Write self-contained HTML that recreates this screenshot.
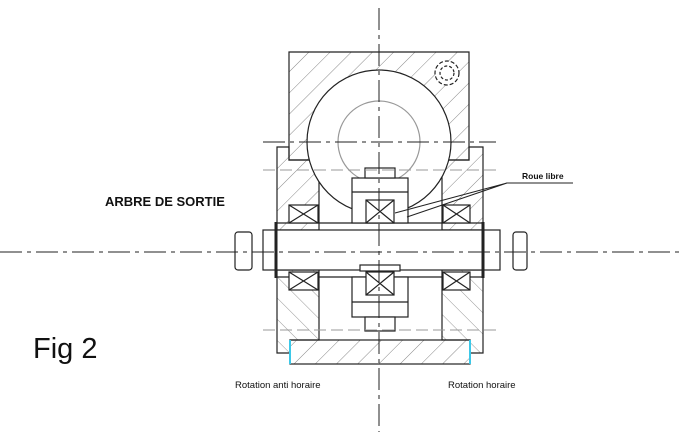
<!DOCTYPE html>
<html><head><meta charset="utf-8"><style>
html,body{margin:0;padding:0;background:#fff;}
svg{display:block;}
text{font-family:"Liberation Sans",sans-serif;fill:#111;}
</style></head><body>
<svg width="689" height="434" viewBox="0 0 689 434" xmlns="http://www.w3.org/2000/svg">
<defs>
<pattern id="h" patternUnits="userSpaceOnUse" width="15" height="15" patternTransform="rotate(45)">
<line x1="0" y1="0" x2="0" y2="15" stroke="#888" stroke-width="1"/>
</pattern>
<pattern id="h2" patternUnits="userSpaceOnUse" width="15" height="15" patternTransform="rotate(-45)">
<line x1="0" y1="0" x2="0" y2="15" stroke="#999" stroke-width="1"/>
</pattern>
</defs>
<g fill="none" stroke="#222" stroke-width="1.2">
<path d="M289,52 H469 V160 H442 V147 H319 V160 H289 Z" fill="url(#h)"/>
<circle cx="447" cy="73" r="12" stroke-dasharray="4,2" fill="#fff"/>
<circle cx="447" cy="73" r="7" stroke-dasharray="3,2"/>
<path d="M277,147 H289 V160 H319 V230 H277 Z" fill="url(#h)"/>
<path d="M277,270 H319 V340 H290 V353 H277 Z" fill="url(#h2)"/>
<path d="M483,147 H469 V160 H442 V230 H483 Z" fill="url(#h)"/>
<path d="M483,270 H442 V340 H470 V353 H483 Z" fill="url(#h2)"/>
<rect x="290" y="340" width="180" height="24" fill="url(#h)"/>
<line x1="290" y1="340" x2="290" y2="364" stroke="#3cc8e8" stroke-width="2"/>
<line x1="470" y1="340" x2="470" y2="364" stroke="#3cc8e8" stroke-width="2"/>
<circle cx="379" cy="142" r="72" fill="#fff"/>
<circle cx="379" cy="142" r="41" stroke="#999"/>
<rect x="263" y="230" width="237" height="40" fill="#fff"/>
<line x1="277" y1="223" x2="483" y2="223"/>
<line x1="277" y1="277" x2="483" y2="277"/>
<rect x="235" y="232" width="17" height="38" rx="3" fill="#fff"/>
<rect x="513" y="232" width="14" height="38" rx="3" fill="#fff"/>
<line x1="276" y1="222" x2="276" y2="278" stroke-width="3"/>
<line x1="483" y1="222" x2="483" y2="278" stroke-width="3"/>
<rect x="352" y="178" width="56" height="45" fill="#fff"/>
<line x1="352" y1="192" x2="408" y2="192"/>
<rect x="365" y="168" width="30" height="10" fill="#fff"/>
<rect x="352" y="277" width="56" height="40" fill="#fff"/>
<line x1="352" y1="302" x2="408" y2="302"/>
<rect x="365" y="317" width="30" height="14" fill="#fff"/>
<rect x="360" y="265" width="40" height="6" fill="#fff"/>
<g fill="#fff">
<rect x="289" y="205" width="29" height="18"/><path d="M289,205 L318,223 M318,205 L289,223"/>
<rect x="289" y="272" width="29" height="18"/><path d="M289,272 L318,290 M318,272 L289,290"/>
<rect x="443" y="205" width="27" height="18"/><path d="M443,205 L470,223 M470,205 L443,223"/>
<rect x="443" y="272" width="27" height="18"/><path d="M443,272 L470,290 M470,272 L443,290"/>
<rect x="366" y="200" width="28" height="23"/><path d="M366,200 L394,223 M394,200 L366,223"/>
<rect x="366" y="272" width="28" height="23"/><path d="M366,272 L394,295 M394,272 L366,295"/>
</g>
<path d="M573,183 H507 L395,213 M507,183 L407,217" stroke-width="1"/>
</g>
<g stroke="#222" stroke-width="1" stroke-dasharray="22,5,4,5">
<line x1="0" y1="252" x2="680" y2="252"/>
<line x1="379" y1="8" x2="379" y2="432"/>
<line x1="263" y1="142" x2="496" y2="142"/>
</g>
<g stroke="#999" stroke-width="1" stroke-dasharray="12,5">
<line x1="263" y1="170" x2="496" y2="170"/>
<line x1="263" y1="330" x2="496" y2="330"/>
</g>
<text x="105" y="206" font-size="13" font-weight="bold">ARBRE DE SORTIE</text>
<text x="522" y="179" font-size="8.5" font-weight="bold">Roue libre</text>
<text x="33" y="358" font-size="29">Fig 2</text>
<text x="235" y="388" font-size="9.5">Rotation anti horaire</text>
<text x="448" y="388" font-size="9.5">Rotation horaire</text>
</svg>
</body></html>
